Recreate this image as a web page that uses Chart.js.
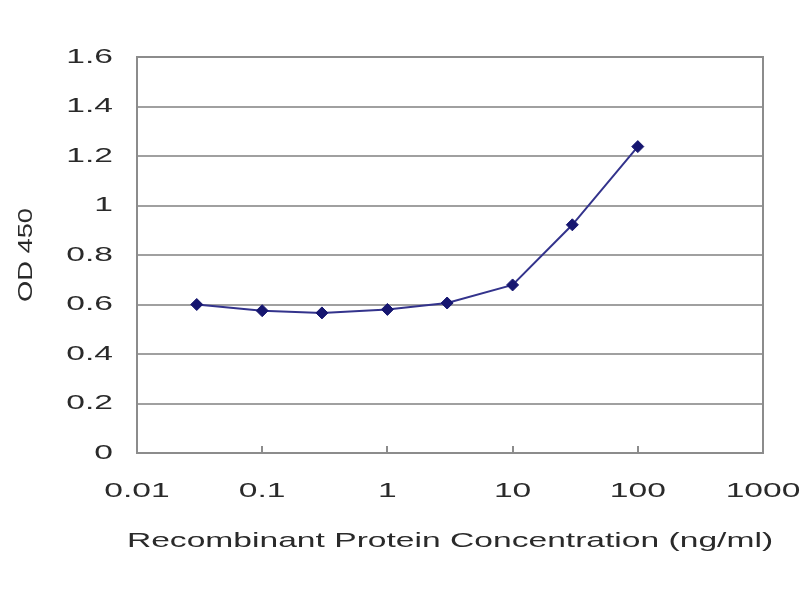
<!DOCTYPE html>
<html>
<head>
<meta charset="utf-8">
<script src="https://cdn.jsdelivr.net/npm/chart.js@4/dist/chart.umd.min.js"></script>
<style>
  body { margin: 0; background: #fff; }
</style>
</head>
<body>
<canvas id="chart_render" width="800" height="600"></canvas>
<script>
//// chart data

let concentrations = [0.03, 0.1, 0.3, 1, 3, 10, 30, 100];
let odValues = [0.60, 0.575, 0.566, 0.58, 0.606, 0.679, 0.922, 1.238];
let xTickValues = [0.01, 0.1, 1, 10, 100, 1000];
let yTickValues = [0, 0.2, 0.4, 0.6, 0.8, 1, 1.2, 1.4, 1.6];

let points = [];
for (let i = 0; i < concentrations.length; i++) {
    points.push({ x: concentrations[i], y: odValues[i] });
}

let chart_render = document.getElementById('chart_render');
let ctx = chart_render.getContext('2d');

/// the original picture is stretched sideways, so its letters are wide.
/// widen every text chart.js draws (and measures) the same way.
let flatStretch = 1.6;
let upStretch = 1.3;
let plainFillText = ctx.fillText.bind(ctx);
let plainMeasureText = ctx.measureText.bind(ctx);

ctx.fillText = function(text, x, y) {
    let m = ctx.getTransform();
    let s = Math.abs(m.b) > 0.01 ? upStretch : flatStretch;
    ctx.save();
    ctx.translate(x, y);
    ctx.scale(s, 1);
    plainFillText(text, 0, 0);
    ctx.restore();
};
ctx.measureText = function(text) {
    let m = plainMeasureText(text);
    return {
        width: m.width * flatStretch,
        actualBoundingBoxAscent: m.actualBoundingBoxAscent,
        actualBoundingBoxDescent: m.actualBoundingBoxDescent
    };
};

/// frame around the plot area
let plotFrame = {
    id: 'plotFrame',
    afterDraw: function(chart) {
        let a = chart.chartArea;
        let c = chart.ctx;
        c.save();
        c.strokeStyle = '#8c8c8c';
        c.lineWidth = 2;
        c.strokeRect(a.left, a.top, a.right - a.left, a.bottom - a.top);
        c.restore();
    }
};

let tickFont = { family: 'Liberation Sans, Arial, sans-serif', size: 21 };

new Chart(ctx, {
    type: 'line',
    data: {
        datasets: [{
            data: points,
            borderColor: '#33338c',
            backgroundColor: '#161670',
            borderWidth: 2,
            pointStyle: 'rectRot',
            pointRadius: 6,
            pointBorderWidth: 1,
            pointBorderColor: '#161670',
            tension: 0
        }]
    },
    options: {
        responsive: false,
        animation: false,
        layout: { padding: { left: 14, right: 37, top: 57, bottom: 46 } },
        plugins: { legend: { display: false }, tooltip: { enabled: false } },
        scales: {
            x: {
                type: 'logarithmic',
                min: 0.01,
                max: 1000,
                afterBuildTicks: function(scale) {
                    scale.ticks = xTickValues.map(function(v) { return { value: v }; });
                },
                afterFit: function(scale) {
                    scale.height = 101;
                    scale.paddingLeft = 0;
                    scale.paddingRight = 0;
                },
                grid: {
                    drawOnChartArea: false,
                    color: '#8c8c8c',
                    lineWidth: 2,
                    tickLength: -7
                },
                border: { color: '#8c8c8c', width: 2 },
                ticks: {
                    color: '#2a2a2a',
                    font: tickFont,
                    padding: 33,
                    maxRotation: 0,
                    autoSkip: false,
                    callback: function(v) { return String(v); }
                },
                title: {
                    display: true,
                    text: 'Recombinant Protein Concentration (ng/ml)',
                    color: '#2a2a2a',
                    font: tickFont,
                    padding: { top: 4, bottom: 0 }
                }
            },
            y: {
                min: 0,
                max: 1.6,
                afterBuildTicks: function(scale) {
                    scale.ticks = yTickValues.map(function(v) { return { value: v }; });
                },
                afterFit: function(scale) { scale.width = 123; },
                grid: {
                    color: '#a0a0a0',
                    lineWidth: 2,
                    drawTicks: false
                },
                border: { color: '#8c8c8c', width: 2 },
                ticks: {
                    color: '#2a2a2a',
                    font: tickFont,
                    padding: 24,
                    callback: function(v) { return String(v); }
                },
                title: {
                    display: true,
                    text: 'OD 450',
                    color: '#2a2a2a',
                    font: tickFont,
                    padding: { top: 0, bottom: 4 }
                }
            }
        }
    },
    plugins: [plotFrame]
});
</script>
</body>
</html>
